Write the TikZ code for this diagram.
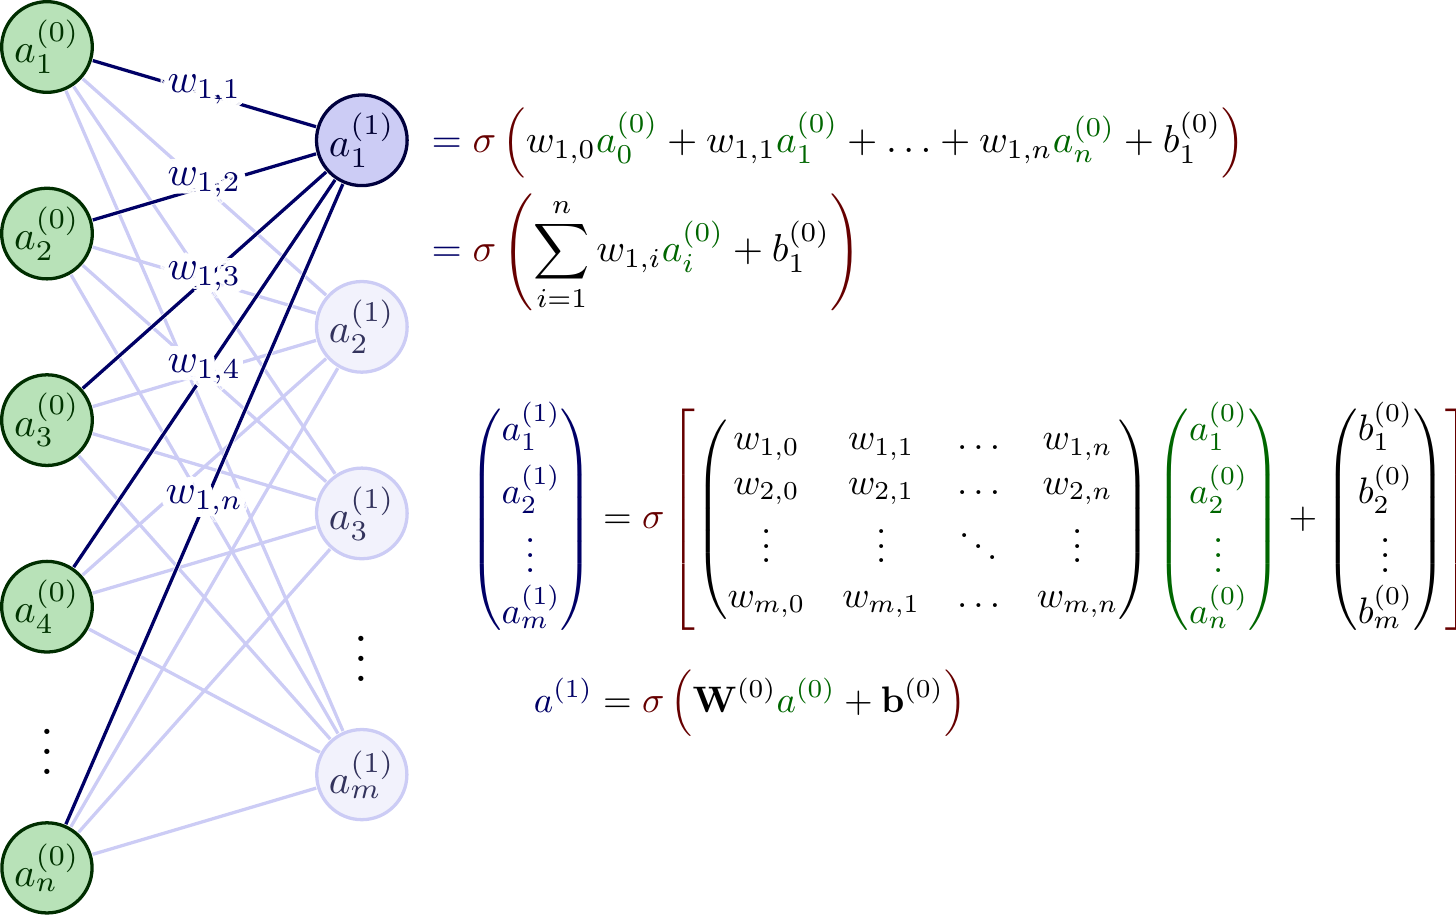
\documentclass[tikz,border=0pt]{standalone}
\usepackage{amsmath,amssymb}
\usepackage{contour}
\contourlength{2pt}
\contournumber{32}
\colorlet{bleu}{blue!80!black}
\colorlet{vert}{green!60!black}
\colorlet{bleufonce}{blue!40!black}
\colorlet{vertfonce}{green!40!black}
\colorlet{rougefonce}{red!40!black}
\tikzset{
  neurone/.style={circle,thick,minimum size=22pt,inner sep=0.5pt,outer sep=0.6pt},
  entree/.style={neurone,text=green!20!black,draw=vert!30!black,fill=vert!28},
  cachee/.style={neurone,text=blue!20!black,draw=bleu!30!black,fill=bleu!20},
  pale/.style={neurone,text=blue!20!black!80,draw=bleu!20,fill=bleu!5},
  lien/.style={thick,bleufonce},
  lienpale/.style={thick,bleu!20},
  dessous/.style={white,line width=1.2pt}
}
\newcommand{\agr}[1]{{\color{vertfonce}a_{#1}^{(0)}}}
\begin{document}
\begin{tikzpicture}
  \useasboundingbox (0,0) rectangle (12.487,-7.839);
  % couche d'entree
  \node[entree] (e1) at (0.403,-0.403) {$a_1^{(0)}$};
  \node[entree] (e2) at (0.403,-2.003) {$a_2^{(0)}$};
  \node[entree] (e3) at (0.403,-3.603) {$a_3^{(0)}$};
  \node[entree] (e4) at (0.403,-5.203) {$a_4^{(0)}$};
  \node[entree] (en) at (0.403,-7.443) {$a_n^{(0)}$};
  % couche de sortie
  \node[pale] (sm) at (3.103,-6.643) {$a_m^{(1)}$};
  \node[pale] (s3) at (3.103,-4.403) {$a_3^{(1)}$};
  \node[pale] (s2) at (3.103,-2.803) {$a_2^{(1)}$};
  \node[cachee] (s1) at (3.103,-1.203) {$a_1^{(1)}$};
  % liens pales
  \draw[lienpale] (e1)--(sm);
  \draw[lienpale] (e2)--(sm);
  \draw[lienpale] (e3)--(sm);
  \draw[lienpale] (e4)--(sm);
  \draw[lienpale] (en)--(sm);
  \draw[lienpale] (e1)--(s3);
  \draw[lienpale] (e2)--(s3);
  \draw[lienpale] (e3)--(s3);
  \draw[lienpale] (e4)--(s3);
  \draw[lienpale] (en)--(s3);
  \draw[lienpale] (e1)--(s2);
  \draw[lienpale] (e2)--(s2);
  \draw[lienpale] (e3)--(s2);
  \draw[lienpale] (e4)--(s2);
  \draw[lienpale] (en)--(s2);
  % liens vers a1
  \draw[dessous] (e1)--(s1);
  \draw[lien] (e1)--(s1) node[midway] (w1) {\contour{white}{$w_{1,1}$}};
  \draw[dessous] (e2)--(s1);
  \draw[lien] (e2)--(s1) node[midway] (w2) {\contour{white}{$w_{1,2}$}};
  \draw[dessous] (e3)--(s1);
  \draw[lien] (e3)--(s1) node[midway] (w3) {\contour{white}{$w_{1,3}$}};
  \draw[dessous] (e4)--(s1);
  \draw[lien] (e4)--(s1) node[midway] (w4) {\contour{white}{$w_{1,4}$}};
  \draw[dessous] (en)--(s1);
  \draw[lien] (en)--(s1) node[midway] (wn) {\contour{white}{$w_{1,n}$}};
  % points
  \node[scale=1.2] (pe) at (0.403,-6.323) {$\vdots$};
  \node[scale=1.2] (ps) at (3.103,-5.523) {$\vdots$};
  % equations
  \node[right,bleufonce,scale=0.95] (eqa) at (3.49,-1.80) {$\begin{aligned}
    &= \color{rougefonce}\sigma\left(\color{black}
       w_{1,0}\agr{0} + w_{1,1}\agr{1} + \ldots + w_{1,n}\agr{n} + b_1^{(0)}
       \color{rougefonce}\right)\\
    &= \color{rougefonce}\sigma\left(\color{black}
       \sum_{i=1}^{n} w_{1,i}\agr{i} + b_1^{(0)}
       \color{rougefonce}\right)
  \end{aligned}$};
  \node[right,scale=0.9] (eqb) at (3.913,-4.883) {$\begin{aligned}
    {\color{bleufonce}\begin{pmatrix}
      a_{1}^{(1)} \\[0.3em]
      a_{2}^{(1)} \\
      \vdots \\
      a_{m}^{(1)}
    \end{pmatrix}}
    &= \color{rougefonce}\sigma\left[\color{black}
    \begin{pmatrix}
      w_{1,0} & w_{1,1} & \ldots & w_{1,n} \\
      w_{2,0} & w_{2,1} & \ldots & w_{2,n} \\
      \vdots  & \vdots  & \ddots & \vdots  \\
      w_{m,0} & w_{m,1} & \ldots & w_{m,n}
    \end{pmatrix}
    {\color{vertfonce}\begin{pmatrix}
      a_{1}^{(0)} \\[0.3em]
      a_{2}^{(0)} \\
      \vdots \\
      a_{n}^{(0)}
    \end{pmatrix}}
    +
    \begin{pmatrix}
      b_{1}^{(0)} \\[0.3em]
      b_{2}^{(0)} \\
      \vdots \\
      b_{m}^{(0)}
    \end{pmatrix}
    \color{rougefonce}\right]\\[0.5em]
    {\color{bleufonce}a^{(1)}}
    &= \color{rougefonce}\sigma\left(\color{black}
       \mathbf{W}^{(0)}{\color{vertfonce}a^{(0)}} + \mathbf{b}^{(0)}
       \color{rougefonce}\right)
  \end{aligned}$};
\end{tikzpicture}
\end{document}
